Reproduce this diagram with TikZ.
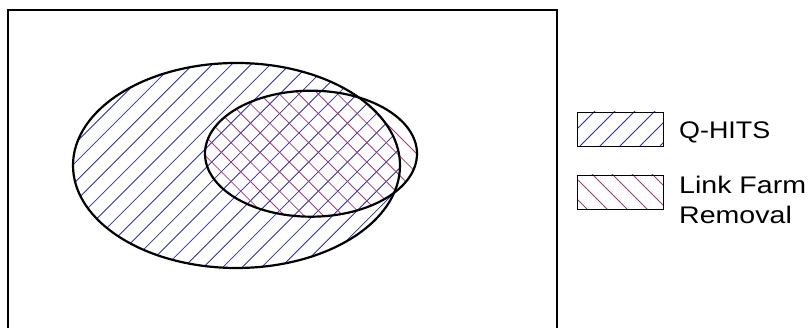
\documentclass[tikz,border=0pt]{standalone}
\usepackage{fontspec}
\setmainfont{Liberation Sans}
\definecolor{hblue}{RGB}{45,45,165}
\definecolor{hpurple}{RGB}{165,60,115}
\begin{document}
\begin{tikzpicture}[x=1pt,y=1pt,
  frame/.style={line width=1.8pt,black},
  venn/.style={line width=2.2pt,black},
  legbox/.style={line width=0.9pt,black},
  bluehatch/.style={hblue,line width=0.8pt},
  purplehatch/.style={hpurple,line width=0.8pt},
  legtext/.style={inner sep=0pt,font=\fontsize{24}{24}\selectfont}]
\useasboundingbox (0,0) rectangle (809,328);
\clip (0,0) rectangle (809,328);
% frame (open at bottom)
\draw[frame] (8,-10) -- (8,318) -- (557,318) -- (557,-10);
% big ellipse hatch
\begin{scope}
  \clip (236.5,162.5) ellipse [x radius=163.5, y radius=102.5];
  \foreach \k in {-30,...,40} {
    \draw[bluehatch] ({-51.3+19.4*\k-300},-300) -- ({-51.3+19.4*\k+600},600);
  }
\end{scope}
% small ellipse hatch
\begin{scope}
  \clip (311,174.3) ellipse [x radius=106, y radius=63];
  \foreach \k in {-10,...,60} {
    \draw[purplehatch] ({19.4*\k-300},600) -- ({19.4*\k+600},-300);
  }
\end{scope}
\draw[venn] (236.5,162.5) ellipse [x radius=163.5, y radius=102.5];
\draw[venn] (311,174.3) ellipse [x radius=106, y radius=63];
% legend
\begin{scope}
  \clip (577,182) rectangle (663,216);
  \foreach \k in {-10,...,10} {
    \draw[bluehatch] ({620+20*\k-100},82) -- ({620+20*\k+100},282);
  }
\end{scope}
\draw[legbox] (577,182) rectangle (663,216);
\begin{scope}
  \clip (577,119) rectangle (663,153);
  \foreach \k in {-10,...,10} {
    \draw[purplehatch] ({610+20*\k-100},236) -- ({610+20*\k+100},36);
  }
\end{scope}
\draw[legbox] (577,119) rectangle (663,153);
\node[legtext,anchor=base west] (q) at (679,189.7) {\scalebox{1.12}[1]{Q-HITS}};
\node[legtext,anchor=base west] (l1) at (679,134) {\scalebox{1.19}[1]{Link Farm}};
\node[legtext,anchor=base west] (l2) at (679,104.7) {\scalebox{1.19}[1]{Removal}};
\end{tikzpicture}
\end{document}
